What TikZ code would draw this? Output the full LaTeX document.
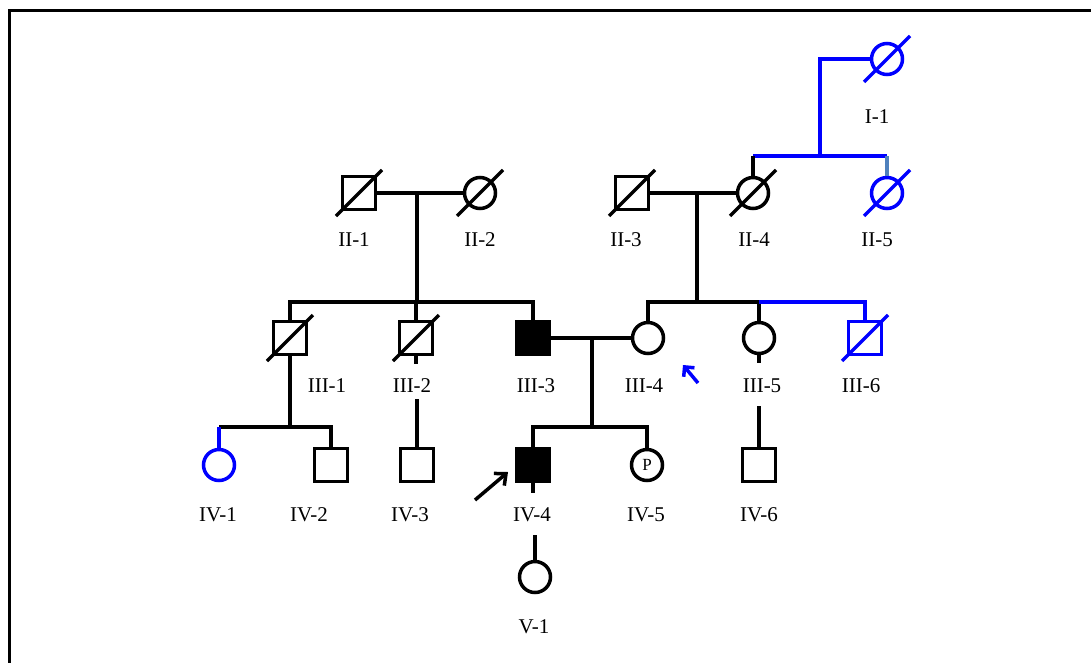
\documentclass[tikz,border=0pt]{standalone}
\usepackage{fontspec}
\setmainfont{Liberation Serif}
\usetikzlibrary{arrows.meta}
\definecolor{pedblue}{RGB}{0,0,255}
\definecolor{linkblue}{RGB}{79,129,189}
\begin{document}
\begin{tikzpicture}[x=1pt,y=-1pt,
  line width=3.5pt,
  male/.style={draw, rectangle, minimum size=33pt, inner sep=0pt, line width=3.5pt},
  female/.style={draw, circle, minimum size=31pt, inner sep=0pt, line width=3.5pt},
  affected/.style={fill=black},
  lbl/.style={font=\fontsize{21}{24}\selectfont, inner sep=0pt},
  probarrow/.style={-{Straight Barb[length=9pt,width=16pt]}, line width=3.5pt},
]
\useasboundingbox (0,0) rectangle (1091,662);
% frame
\draw[line width=3pt] (9,672) -- (9,10) -- (1100,10);

% generation I
\node[female, pedblue] (I1) at (887,59) {};
% generation II
\node[male]   (II1) at (359,193) {};
\node[female] (II2) at (480,193) {};
\node[male]   (II3) at (632,193) {};
\node[female] (II4) at (753,193) {};
\node[female, pedblue] (II5) at (887,193) {};
% generation III
\node[male] (III1) at (290,338) {};
\node[male] (III2) at (416,338) {};
\node[male, affected] (III3) at (533,338) {};
\node[female] (III4) at (648,338) {};
\node[female] (III5) at (759,338) {};
\node[male, pedblue] (III6) at (865,338) {};
% generation IV
\node[female, pedblue] (IV1) at (219,465) {};
\node[male] (IV2) at (331,465) {};
\node[male] (IV3) at (417,465) {};
\node[male, affected] (IV4) at (533,465) {};
\node[female, font=\fontsize{17}{20}\selectfont] (IV5) at (647,465) {P};
\node[male] (IV6) at (759,465) {};
% generation V
\node[female] (V1) at (535,577) {};

% deceased marks
\foreach \n in {II1,II2,II3,II4,III1,III2}
  \draw ([shift={(-23,23)}]\n.center) -- ([shift={(23,-23)}]\n.center);
\foreach \n in {I1,II5,III6}
  \draw[pedblue] ([shift={(-23,23)}]\n.center) -- ([shift={(23,-23)}]\n.center);

% line junctions
\coordinate (jI) at (820,156);
\coordinate (m1) at (417,193);
\coordinate (s1) at (417,302);
\coordinate (m2) at (697,193);
\coordinate (s2) at (697,302);
\coordinate (m3) at (592,338);
\coordinate (s3) at (592,427);
\coordinate (s4) at (290,427);

% I-1 and her children
\draw[pedblue] (I1.west) -| (jI);
\draw[pedblue] (II4.north |- jI) -- (II5.north |- jI);
\draw (II4.north |- jI) -- (II4.north);
\draw[linkblue] (II5.north |- jI) -- (II5.north);

% II-1 x II-2
\draw (II1) -- (II2);
\draw (m1) -- (s1);
\draw (III1.north) |- (III3.north |- s1) -- (III3.north);
\draw (III2.north) -- (III2.north |- s1);

% II-3 x II-4
\draw (II3) -- (II4);
\draw (m2) -- (s2);
\draw (III4.north) |- (III5.north |- s2) -- (III5.north);
\draw[pedblue] (III5.north |- s2) -| (III6.north);

% III-3 x III-4
\draw (III3) -- (III4);
\draw (m3) -- (s3);
\draw (IV4.north) |- (IV5.north |- s3) -- (IV5.north);

% III-1's children
\draw (III1.south) -- (s4);
\draw (IV1.north |- s4) -| (IV2.north);
\draw[pedblue] (IV1.north |- s4) -- (IV1.north);

% single lines of descent
\draw (III2.south) -- ++(0,8);
\draw (IV3.north) -- ++(0,-48);
\draw (III5.south) -- ++(0,8);
\draw (IV6.north) -- ++(0,-41);
\draw (IV4.south) -- ++(0,10);
\draw (V1.north) -- ++(0,-25);

% proband and index arrows
\coordinate (pa1) at (475,500);
\coordinate (pa2) at (508,472);
\draw[probarrow] (pa1) -- (pa2);
\coordinate (pb1) at (698,383);
\coordinate (pb2) at (683,365);
\draw[probarrow, pedblue, -{Straight Barb[length=7pt,width=14pt]}] (pb1) -- (pb2);

% labels
\node[lbl] (lI1) at (877,117) {I-1};
\node[lbl] (lII1) at (354,240) {II-1};
\node[lbl] (lII2) at (480,240) {II-2};
\node[lbl] (lII3) at (626,240) {II-3};
\node[lbl] (lII4) at (754,240) {II-4};
\node[lbl] (lII5) at (877,240) {II-5};
\node[lbl] (lIII1) at (327,386) {III-1};
\node[lbl] (lIII2) at (412,386) {III-2};
\node[lbl] (lIII3) at (536,386) {III-3};
\node[lbl] (lIII4) at (644,386) {III-4};
\node[lbl] (lIII5) at (762,386) {III-5};
\node[lbl] (lIII6) at (861,386) {III-6};
\node[lbl] (lIV1) at (218,515) {IV-1};
\node[lbl] (lIV2) at (309,515) {IV-2};
\node[lbl] (lIV3) at (410,515) {IV-3};
\node[lbl] (lIV4) at (532,515) {IV-4};
\node[lbl] (lIV5) at (646,515) {IV-5};
\node[lbl] (lIV6) at (759,515) {IV-6};
\node[lbl] (lV1) at (534,627) {V-1};
\end{tikzpicture}
\end{document}
